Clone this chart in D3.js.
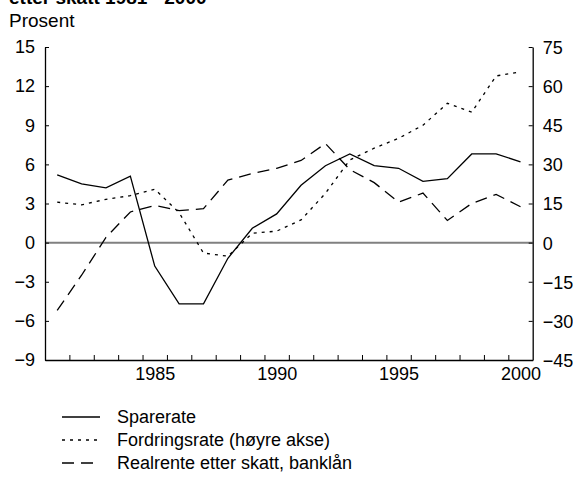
<!DOCTYPE html>
<html>
<head>
<meta charset="utf-8">
<script src="https://cdn.jsdelivr.net/npm/d3@7"></script>
<style>
  body { margin: 0; background: #fff; }
  svg { display: block; font-family: "Liberation Sans", Arial, sans-serif; }
</style>
</head>
<body>
<svg id="chart" width="573" height="483"></svg>
<script>
// values
const years = d3.range(1981, 2001);
const sparerate = [5.2, 4.5, 4.2, 5.1, -1.8, -4.7, -4.7, -1.2, 1.1, 2.2, 4.4, 5.9, 6.8, 5.9, 5.7, 4.7, 4.9, 6.8, 6.8, 6.2];
const fordringsrate = [15.5, 14.5, 16.6, 18, 20.5, 11.5, -4, -5.2, 3.6, 4.4, 8.7, 18.9, 31.7, 36.2, 40, 45, 53.4, 50, 63.9, 65.5];
const realrente = [-5.2, -2.5, 0.4, 2.35, 2.85, 2.45, 2.6, 4.8, 5.3, 5.7, 6.3, 7.6, 5.6, 4.6, 3.1, 3.8, 1.7, 3.0, 3.7, 2.75];
const leftTicks = d3.range(-9, 16, 3);
const rightTicks = d3.range(-45, 76, 15);
const yearLabels = [1985, 1990, 1995, 2000];

const series = [
  { name: "Sparerate", values: sparerate, axis: "left", dash: null },
  { name: "Fordringsrate (høyre akse)", values: fordringsrate, axis: "right", dash: "3,5" },
  { name: "Realrente etter skatt, banklån", values: realrente, axis: "left", dash: "12,7" }
];

// plot box
const L = 45, R = 532.7, T = 47, B = 360;
const fs = 18;

const svg = d3.select("#chart");

const x = d3.scaleLinear().domain([1980.5, 2000.5]).range([L, R]);
const yL = d3.scaleLinear().domain([-9, 15]).range([B, T]);
const yR = d3.scaleLinear().domain([-45, 75]).range([B, T]);

// title (cut off at the top) and unit
svg.append("text")
  .attr("x", 9).attr("y", 4)
  .attr("font-size", fs + 1).attr("font-weight", "bold")
  .text("etter skatt 1981 - 2000");
svg.append("text")
  .attr("x", 9).attr("y", 27)
  .attr("font-size", fs + 1)
  .text("Prosent");

// zero line
svg.append("line")
  .attr("x1", L).attr("x2", R)
  .attr("y1", yL(0)).attr("y2", yL(0))
  .attr("stroke", "#808080").attr("stroke-width", 2);

// left axis
const gl = svg.append("g")
  .attr("transform", "translate(" + L + ",0)")
  .call(d3.axisLeft(yL).tickValues(leftTicks).tickSizeInner(-4).tickSizeOuter(0).tickPadding(10));
// right axis
const gr = svg.append("g")
  .attr("transform", "translate(" + R + ",0)")
  .call(d3.axisRight(yR).tickValues(rightTicks).tickSizeInner(-4).tickSizeOuter(0).tickPadding(10));
// bottom axis: ticks between years, labels at some years
const gb = svg.append("g")
  .attr("transform", "translate(0," + B + ")")
  .call(d3.axisBottom(x).tickValues(years.slice(0, -1).map(d => d + 0.5)).tickSizeInner(-5).tickSizeOuter(0).tickFormat(""));
const gb2 = svg.append("g")
  .attr("transform", "translate(0," + B + ")")
  .call(d3.axisBottom(x).tickValues(yearLabels).tickSize(0).tickPadding(7).tickFormat(d3.format("d")));
gb2.select(".domain").remove();

[gl, gr, gb, gb2].forEach(g => {
  g.selectAll("text").attr("font-size", fs).attr("fill", "#000").attr("font-family", "Liberation Sans, Arial, sans-serif");
  g.selectAll("line").attr("stroke", "#000");
  g.select(".domain").attr("stroke", "#000").attr("stroke-width", 1.3);
});
gr.selectAll(".tick text").attr("dy", "0.36em");

// series lines
series.forEach(s => {
  const y = s.axis === "left" ? yL : yR;
  const line = d3.line().x((d, i) => x(years[i])).y(d => y(d));
  svg.append("path")
    .datum(s.values)
    .attr("d", line)
    .attr("fill", "none")
    .attr("stroke", "#000")
    .attr("stroke-width", 1.3)
    .attr("stroke-dasharray", s.dash);
});

// legend
const leg = svg.append("g");
series.forEach((s, i) => {
  const yy = 417 + i * 23;
  leg.append("line")
    .attr("x1", 62).attr("x2", 100)
    .attr("y1", yy).attr("y2", yy)
    .attr("stroke", "#000").attr("stroke-width", 1.3)
    .attr("stroke-dasharray", s.dash);
  leg.append("text")
    .attr("x", 117).attr("y", yy + 6)
    .attr("font-size", fs)
    .text(s.name);
});
</script>
</body>
</html>
